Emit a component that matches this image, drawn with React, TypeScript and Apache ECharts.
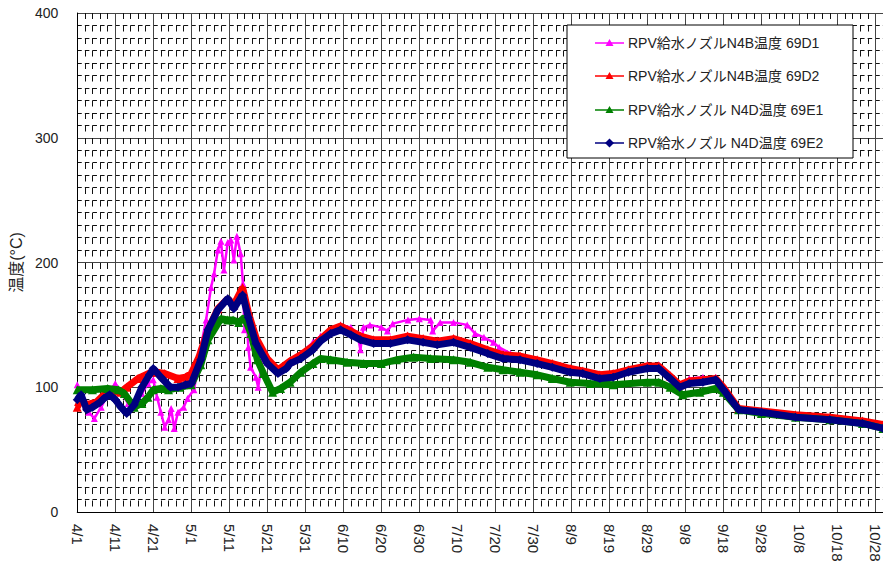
import React, { useEffect, useRef } from 'react';
import * as echarts from 'echarts';

const xTickLabels = ['4/1','4/11','4/21','5/1','5/11','5/21','5/31','6/10','6/20','6/30','7/10','7/20','7/30','8/9','8/19','8/29','9/8','9/18','9/28','10/8','10/18','10/28'];
const seriesNames = ['RPV給水ノズルN4B温度 69D1','RPV給水ノズルN4B温度 69D2','RPV給水ノズル N4D温度 69E1','RPV給水ノズル N4D温度 69E2'];
const seriesColors = ['#FF00FF','#FF0000','#008000','#000080'];

// [day since 4/1, °C]
const d1: number[][] = [[0,102],[1,90],[3,80],[4.5,75],[6.3,84],[8,94],[10,103],[11.5,96],[13.4,87],[15,84],[17,95],[18.6,103],[20,106],[21,92],[22,80],[23,68],[24,74],[24.7,83],[25.5,67],[26.5,80],[28,84],[29,91],[30.7,98],[31.8,116],[32.5,132],[33.9,154],[35.2,180],[36,191],[37,210],[37.8,217],[38.6,194],[39.6,216],[40.4,218],[41.2,202],[42,221],[43,207],[43.6,183],[44,146],[44.4,167],[45,132],[45.6,116],[47,108],[47.6,100],[49,127],[50,120],[52.8,114],[56,121],[58.8,127],[62,136],[64,141],[66.7,146],[69.3,150],[72,148],[73.7,143],[74.5,130],[75.3,148],[77,150],[80,148],[81.6,145],[83,151],[87,154],[90,155],[93,154],[93.5,145],[95.5,152],[99,152],[102.6,150],[104.7,143],[107,140],[109.5,136],[111,132],[114,127],[116.5,124],[121,121],[125,119],[129.7,115],[133,113],[137.5,110],[141,111],[145,114],[150,118],[153,118],[156,110],[158.5,103],[161,107],[164.6,108],[168,108],[170,100],[174,83],[180,81],[189,78],[198,76],[206.6,72],[212,69]];
const d2: number[][] = [[0,84],[1,90],[2.5,86],[5,88],[7,94],[9,96],[11.5,96],[13,100],[16,107],[19.4,112],[21,112],[23,111],[26.5,107],[28.5,108],[30,111],[32,124],[34.4,146],[37,163],[39.6,171],[41.2,166],[43.5,180],[45,160],[47,140],[50,123],[52.8,114],[56,121],[58.8,126],[62,133],[66.7,146],[69.3,149],[72,145],[74.5,141],[78,138],[82.4,138],[86.9,141],[91,139],[94.7,137],[99,139],[103.4,135],[108,130],[112,126],[116.5,125],[121,122],[125,119],[129.7,115],[133,113],[137.5,110],[141,111],[145,114],[150,117],[153,117],[156,109],[158.5,102],[161,105],[164.6,106],[168,107],[170,100],[174,83],[180,81],[189,78],[198,76],[206.6,73],[212,70]];
const e1: number[][] = [[0,98],[4,98],[8,99],[10.8,98],[12.4,95],[15,84],[17,87],[18.6,92],[20,98],[22,99],[24,98],[27,100],[30,102],[32.5,118],[34.4,138],[37.8,155],[39.6,154],[41,154],[42.5,152],[44,156],[45.7,143],[47.4,122],[49,111],[51.4,96],[53.5,99],[56,104],[58.8,112],[62,119],[64,123],[66.7,122],[71,120],[75.4,119],[80,119],[84,122],[88.5,124],[93,123],[99,122],[103.4,120],[108,116],[112,114],[116.5,112],[121,110],[125,107],[129.7,104],[135,103],[141,102],[150,104],[153,104],[156,100],[159.3,94],[163.8,96],[168,99],[170,96],[174,82],[180,79],[189,76],[198,74],[206.6,71],[212,67]];
const e2: number[][] = [[0,90],[1,94],[2.5,82],[4,84],[6,88],[7,91],[8.5,94],[10,90],[11.5,84],[13,79],[15,86],[17,100],[19,110],[20,115],[22,108],[24.5,100],[26.5,100],[28.5,102],[30,103],[32.5,122],[34.4,146],[37,162],[39.6,171],[41.2,163],[43.5,174],[45,156],[47,135],[50,119],[52.8,111],[55,115],[56,119],[58.8,123],[62,130],[64,137],[66.7,143],[69.3,146],[72,142],[74.5,138],[78,135],[82.4,135],[86.9,138],[91,136],[94.7,134],[99,136],[103.4,132],[108,127],[112,123],[116.5,122],[121,119],[125,116],[129.7,112],[133,111],[137.5,107],[141,108],[145,112],[150,115],[153,115],[156,107],[158.5,100],[161,103],[164.6,104],[168,106],[170,98],[174,82],[180,80],[189,76],[198,74],[206.6,71],[212,67]];

const seriesData = [d1, d2, e1, e2];
const seriesSymbols = ['triangle','triangle','triangle','diamond'];

const FONT = "'Liberation Sans', Arial, 'Noto Sans CJK JP', sans-serif";

export default function App() {
  const ref = useRef<HTMLDivElement>(null);
  useEffect(() => {
    if (!ref.current) return;
    const chart = echarts.init(ref.current, undefined, { renderer: 'svg' });
    const legendY = [43, 76, 110, 143];
    const legendEls: any[] = [
      { type: 'rect', shape: { x: 567, y: 25, width: 286, height: 133 }, style: { fill: '#fff', stroke: '#000', lineWidth: 1 }, z: 100 },
    ];
    seriesNames.forEach((n, i) => {
      legendEls.push({ type: 'line', shape: { x1: 595, y1: legendY[i], x2: 624, y2: legendY[i] }, style: { stroke: seriesColors[i], lineWidth: 1.5 }, z: 101 });
      if (i < 3) {
        legendEls.push({ type: 'polygon', shape: { points: [[609.5, legendY[i] - 4], [605.5, legendY[i] + 3], [613.5, legendY[i] + 3]] }, style: { fill: seriesColors[i] }, z: 102 });
      } else {
        legendEls.push({ type: 'polygon', shape: { points: [[609.5, legendY[i] - 4.5], [614, legendY[i]], [609.5, legendY[i] + 4.5], [605, legendY[i]]] }, style: { fill: seriesColors[i] }, z: 102 });
      }
      legendEls.push({ type: 'text', x: 628, y: legendY[i], style: { text: n, fill: '#222', font: `14px ${FONT}`, verticalAlign: 'middle', align: 'left' }, z: 102 });
    });

    chart.setOption({
      animation: false,
      backgroundColor: '#fff',
      textStyle: { fontFamily: FONT },
      grid: { left: 76, right: 0, top: 13, bottom: 60, containLabel: false },
      xAxis: {
        type: 'value', min: 0, max: 212, interval: 10,
        axisLine: { show: true, lineStyle: { color: '#000', width: 1 } },
        axisTick: { show: false },
        axisLabel: {
          rotate: -90, margin: 12, fontSize: 15, color: '#222', fontFamily: FONT,
          formatter: (v: number) => (v % 10 === 0 ? xTickLabels[v / 10] ?? '' : ''),
        },
        splitLine: { show: true, lineStyle: { color: '#444', width: 1 } },
        minorTick: { show: false, splitNumber: 5 },
        minorSplitLine: { show: true, lineStyle: { color: '#111', width: 1, type: [6, 6.5] } },
      },
      yAxis: {
        type: 'value', min: 0, max: 400, interval: 100,
        name: '温度(°C)', nameLocation: 'middle', nameGap: 50, nameRotate: 90,
        nameTextStyle: { fontSize: 16, color: '#222', fontFamily: FONT },
        axisLine: { show: true, lineStyle: { color: '#000', width: 1 } },
        axisTick: { show: false },
        axisLabel: { fontSize: 14, color: '#222', margin: 19, fontFamily: FONT },
        splitLine: { show: true, lineStyle: { color: '#444', width: 1 } },
        minorTick: { show: false, splitNumber: 10 },
        minorSplitLine: { show: true, lineStyle: { color: '#111', width: 1, type: [4.5, 3.1] } },
      },
      series: seriesData.map((d, i) => ({
        type: 'line',
        name: seriesNames[i],
        data: d,
        symbol: seriesSymbols[i],
        symbolSize: i === 0 ? 7 : 9,
        showSymbol: true,
        color: seriesColors[i],
        itemStyle: { color: seriesColors[i] },
        lineStyle: { color: seriesColors[i], width: i === 0 ? 2.5 : 7 },
        z: 2 + i,
      })),
      graphic: { elements: legendEls },
    });
    return () => chart.dispose();
  }, []);
  return <div ref={ref} style={{ width: 883, height: 572, position: 'absolute', left: 0, top: 0 }} />;
}
